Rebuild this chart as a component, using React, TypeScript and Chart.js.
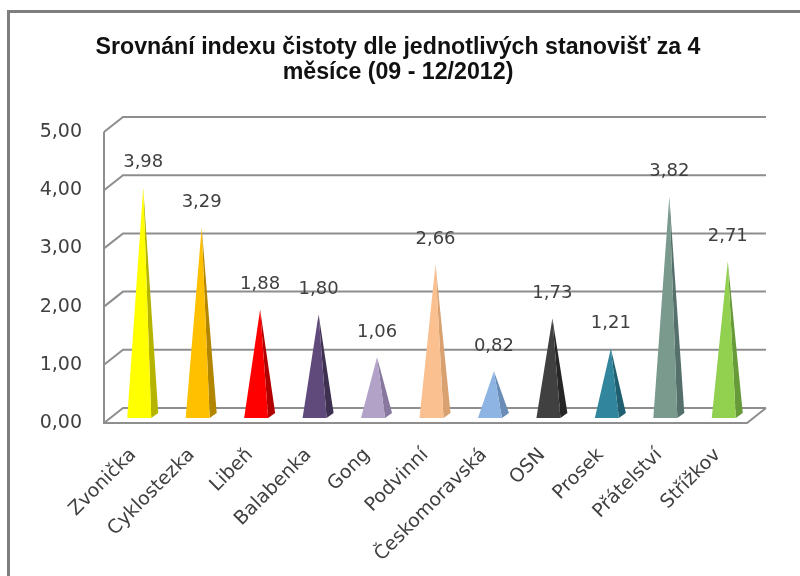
import { useEffect, useRef } from 'react';
import { Chart, registerables } from 'chart.js';

Chart.register(...registerables);

const categories = ['Zvonička', 'Cyklostezka', 'Libeň', 'Balabenka', 'Gong', 'Podvinní', 'Českomoravská', 'OSN', 'Prosek', 'Přátelství', 'Střížkov'];
const values = [3.98, 3.29, 1.88, 1.80, 1.06, 2.66, 0.82, 1.73, 1.21, 3.82, 2.71];
const frontColors = ['#FFFF00', '#FFC000', '#FF0000', '#604A7B', '#B3A2C7', '#FAC090', '#8EB4E3', '#404040', '#31859C', '#7A9A8E', '#92D050'];
const sideColors = ['#B5B500', '#B38600', '#B00000', '#3E3050', '#8878A0', '#D9A070', '#6A8DB8', '#262626', '#1F5F70', '#55706A', '#679A38'];
const yTickValues = [0, 1, 2, 3, 4, 5];
const titleLines = ['Srovnání indexu čistoty dle jednotlivých stanovišť za 4', 'měsíce (09 - 12/2012)'];

const fmt = (v: number) => v.toFixed(2).replace('.', ',');

const DX = 19;
const DY = 15;
const FONT = '"DejaVu Sans", sans-serif';

const framePlugin = {
  id: 'frame',
  beforeDraw(chart: any) {
    const ctx = chart.ctx;
    ctx.save();
    ctx.fillStyle = '#ffffff';
    ctx.fillRect(0, 0, chart.width, chart.height);
    ctx.strokeStyle = '#7e7e7e';
    ctx.lineWidth = 3;
    ctx.beginPath();
    ctx.moveTo(8.5, chart.height + 5);
    ctx.lineTo(8.5, 11.5);
    ctx.lineTo(chart.width + 5, 11.5);
    ctx.stroke();
    // title
    ctx.fillStyle = '#111111';
    ctx.font = 'bold 23px "Liberation Sans", Arial, sans-serif';
    ctx.textAlign = 'center';
    ctx.textBaseline = 'alphabetic';
    const w = ctx.measureText(titleLines[0]).width;
    const s = 605 / w;
    const baselines = [54, 79];
    titleLines.forEach((line, i) => {
      ctx.save();
      ctx.translate(398, baselines[i]);
      ctx.scale(s, 1);
      ctx.fillText(line, 0, 0);
      ctx.restore();
    });
    ctx.restore();
  },
};

const wallPlugin = {
  id: 'wall',
  beforeDatasetsDraw(chart: any) {
    const ctx = chart.ctx;
    const { left, right, bottom, top } = chart.chartArea;
    const y = chart.scales.y;
    ctx.save();
    ctx.strokeStyle = '#8e8e8e';
    ctx.lineWidth = 2;
    ctx.beginPath();
    yTickValues.forEach((v) => {
      const py = y.getPixelForValue(v);
      ctx.moveTo(left, py);
      ctx.lineTo(left + DX, py - DY);
      ctx.lineTo(right + DX, py - DY);
    });
    ctx.moveTo(left, top);
    ctx.lineTo(left, bottom);
    ctx.lineTo(right, bottom);
    ctx.lineTo(right + DX, bottom - DY);
    ctx.stroke();
    ctx.restore();
  },
  beforeDatasetDraw() {
    return false;
  },
  afterDatasetsDraw(chart: any) {
    const ctx = chart.ctx;
    const meta = chart.getDatasetMeta(0);
    ctx.save();
    meta.data.forEach((el: any, i: number) => {
      const x = el.x;
      const top = el.y;
      const base = el.base;
      const fl = [x - 6, base - 5];
      const fr = [x + 18, base - 5];
      const br = [x + 25, base - 10];
      const ap = [x + 10, top - 4];
      // side face
      ctx.fillStyle = sideColors[i];
      ctx.beginPath();
      ctx.moveTo(fr[0], fr[1]);
      ctx.lineTo(br[0], br[1]);
      ctx.lineTo(ap[0], ap[1]);
      ctx.closePath();
      ctx.fill();
      // front face
      ctx.fillStyle = frontColors[i];
      ctx.beginPath();
      ctx.moveTo(fl[0], fl[1]);
      ctx.lineTo(fr[0], fr[1]);
      ctx.lineTo(ap[0], ap[1]);
      ctx.closePath();
      ctx.fill();
      // value label
      ctx.fillStyle = '#404040';
      ctx.font = '18px ' + FONT;
      ctx.textAlign = 'center';
      ctx.textBaseline = 'middle';
      ctx.fillText(fmt(values[i]), ap[0], ap[1] - 25);
    });
    ctx.restore();
  },
};

export default function App() {
  const ref = useRef<HTMLCanvasElement | null>(null);
  useEffect(() => {
    if (!ref.current) return;
    const chart = new Chart(ref.current, {
      type: 'bar',
      data: {
        labels: categories,
        datasets: [
          {
            data: values,
            backgroundColor: frontColors,
          },
        ],
      },
      options: {
        responsive: false,
        animation: false,
        devicePixelRatio: 1,
        layout: { padding: { left: 0, right: 53, top: 132, bottom: 0 } },
        plugins: {
          legend: { display: false },
          title: { display: false },
          tooltip: { enabled: false },
        },
        scales: {
          y: {
            min: 0,
            max: 5,
            ticks: {
              stepSize: 1,
              callback: (v: any) => fmt(Number(v)),
              font: { family: FONT, size: 19 },
              color: '#404040',
              padding: 22,
            },
            grid: { display: false, drawTicks: false },
            border: { display: false },
            afterFit: (s: any) => {
              s.width = 104;
            },
          },
          x: {
            ticks: {
              minRotation: 45,
              maxRotation: 45,
              autoSkip: false,
              font: { family: FONT, size: 19 },
              color: '#404040',
              padding: 21,
            },
            grid: { display: false, drawTicks: false },
            border: { display: false },
            afterFit: (s: any) => {
              s.height = 153;
            },
          },
        },
      },
      plugins: [framePlugin, wallPlugin],
    });
    return () => chart.destroy();
  }, []);
  return (
    <div style={{ position: 'absolute', left: 0, top: 0, width: 800, height: 576, background: '#fff' }}>
      <canvas ref={ref} width={800} height={576} />
    </div>
  );
}
